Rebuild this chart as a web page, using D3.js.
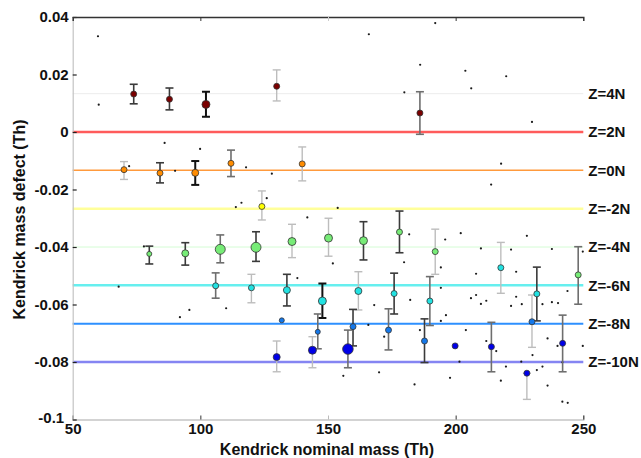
<!DOCTYPE html>
<html><head><meta charset="utf-8">
<script src="https://cdn.jsdelivr.net/npm/d3@7"></script>
<style>
html,body{margin:0;padding:0;background:#fff;}
svg{display:block;font-family:"Liberation Sans",Arial,sans-serif;}
</style></head>
<body><svg id="chart" width="641" height="458"></svg>
<script>
// ---------- data ----------
const massTicks = [50, 100, 150, 200, 250];
const defectTicks = [0.04, 0.02, 0, -0.02, -0.04, -0.06, -0.08, -0.1];
const defectTickLabels = ["0.04", "0.02", "0", "-0.02", "-0.04", "-0.06", "-0.08", "-0.1"];

const seriesLabels = ["Z=4N", "Z=2N", "Z=0N", "Z=-2N", "Z=-4N", "Z=-6N", "Z=-8N", "Z=-10N"];
const seriesDefects = [0.01333, 0, -0.01333, -0.02667, -0.04, -0.05333, -0.06667, -0.08];

// coloured (assigned) points
const pointSeries = [0,0,0,0,0, 2,2,2,2,2, 3, 4,4,4,4,4,4,4,4,4,4, 5,5,5,5,5,5,5,5,5, 6,6,6,6,6,6, 7,7,7,7,7,7,7];
const pointMass = [73.9,87.9,102.2,129.9,186.0, 70.1,84.2,98.0,112.0,139.9, 124.1,
  80.0,94.1,107.8,121.8,135.9,150.2,163.9,178.0,192.0,248.0,
  106.0,120.0,133.9,147.8,161.9,175.9,189.9,217.7,231.8,
  131.9,146.0,159.8,173.7,187.8,229.9,
  129.9,143.9,157.8,199.8,214.0,227.9,241.9];
const pointDefect = [0.0132,0.0114,0.0096,0.0159,0.0066, -0.0131,-0.0143,-0.0142,-0.0109,-0.0111, -0.0259,
  -0.0424,-0.0422,-0.0408,-0.0401,-0.0381,-0.0369,-0.0378,-0.0348,-0.0416,-0.0497,
  -0.0535,-0.0542,-0.0550,-0.0588,-0.0553,-0.0562,-0.0588,-0.0472,-0.0563,
  -0.0655,-0.0695,-0.0677,-0.0689,-0.0727,-0.0660,
  -0.0783,-0.0759,-0.0755,-0.0744,-0.0747,-0.0839,-0.0735];
const errLow = [0.0098,0.0077,0.0053,0.0108,-0.0008, -0.0165,-0.0177,-0.0184,-0.0155,-0.0170, -0.0306,
  -0.0459,-0.0463,-0.0455,-0.0450,-0.0437,-0.0432,-0.0445,-0.0420,-0.0495,-0.0599,
  -0.0578,-0.0594,-0.0605,-0.0647,-0.0619,-0.0633,-0.0673,-0.0561,-0.0657,
  null,-0.0754,-0.0744,-0.0758,-0.0802,-0.0749,
  -0.0834,-0.0820,-0.0820,null,-0.0834,-0.0930,-0.0834];
const errHigh = [0.0166,0.0153,0.0140,0.0216,0.0140, -0.0103,-0.0107,-0.0101,-0.0063,-0.0052, -0.0205,
  -0.0397,-0.0385,-0.0358,-0.0347,-0.0321,-0.0300,-0.0312,-0.0275,-0.0338,-0.0399,
  -0.0490,-0.0495,-0.0495,-0.0527,-0.0486,-0.0491,-0.0503,-0.0384,-0.0470,
  null,-0.0633,-0.0617,-0.0615,-0.0650,-0.0567,
  -0.0727,-0.0712,-0.0689,null,-0.0662,-0.0839,-0.0637];
const pointAbundance = [3,3,4,3,3, 3,3,3.5,3,3, 3,
  2.5,3.5,5,5,4,4,4,3,3,3,
  3,3,3.5,4,3.5,3,3,3,3,
  2.5,2.5,3,3,3,3,
  3.5,4,5.3,3,3,3,3];
// error-bar quality class (0 strong ... 3 weak)
const errClass = [1,1,0,3,2, 3,1,0,2,3, 3,
  1,1,2,1,3,3,1,1,3,2,
  2,3,1,0,3,1,2,3,1,
  0,2,1,2,1,3,
  3,3,2,0,2,3,2];

// unassigned peaks
const noiseMass = [59.9,60.2,72.1,86.0,90.1,99.9,117.9,128.0,113.9,116.1,126.0,141.9,166.0,192.0,186.1,179.9,153.8,
  203.8,219.8,206.1,229.9,217.8,213.9,77.9,68.0,95.7,92.0,110.1,138.0,151.9,168.1,165.8,181.8,179.8,182.2,
  172.0,186.0,195.9,194.2,194.2,196.2,194.2,170.0,156.0,183.9,197.8,201.5,202.0,227.9,209.9,221.7,237.7,
  208.0,223.7,206.0,208.0,209.9,212.0,223.7,221.7,225.9,234.0,237.7,240.1,243.8,249.8,204.0,212.0,215.9,
  230.1,236.0,239.9,249.8,225.7,219.7,231.8,234.0,241.8,217.7,236.0,241.8,243.9];
const noiseDefect = [0.0333,0.0095,-0.0119,-0.0038,-0.0135,-0.0059,-0.0123,-0.0145,-0.0261,-0.0246,-0.0230,-0.0297,0.0340,0.0379,0.0234,0.0138,-0.0264,
  0.0213,0.0194,0.0152,0.0035,-0.0110,-0.0183,-0.0398,-0.0538,-0.0619,-0.0644,-0.0613,-0.0508,-0.0457,-0.0602,-0.0671,-0.0356,-0.0453,-0.0584,
  -0.0712,-0.0689,-0.0374,-0.0471,-0.0542,-0.0637,-0.0657,-0.0836,-0.0848,-0.0878,-0.0855,-0.0799,-0.0352,-0.0361,-0.0405,-0.0409,-0.0407,
  -0.0493,-0.0486,-0.0578,-0.0567,-0.0598,-0.0587,-0.0573,-0.0605,-0.0599,-0.0599,-0.0592,-0.0595,-0.0553,-0.0416,-0.0689,-0.0727,-0.0762,
  -0.0776,-0.0718,-0.0744,-0.0744,-0.0799,-0.0816,-0.0828,-0.0816,-0.0801,-0.0865,-0.0882,-0.0938,-0.0942];

// ---------- drawing ----------
const svg = d3.select("#chart");
const L = 72.7, R = 583.3, T = 17, B = 419.5;
const x = d3.scaleLinear().domain([50, 250]).range([L, R]);
const y = d3.scaleLinear().domain([-0.1, 0.04]).range([B, T]);

const lineColor = d3.scaleOrdinal().domain(seriesLabels)
  .range(["#ececec", "#ff5b5b", "#ff9a3c", "#ffff9a", "#d4fcd4", "#66efef", "#2e90ff", "#8585f2"]);
const lineWidth = d3.scaleOrdinal().domain(seriesLabels).range([1, 2.5, 1.6, 2.5, 1, 2.5, 2, 2.5]);
const pointColor = d3.scaleOrdinal().domain(seriesLabels)
  .range(["#7a0000", "#ff4040", "#ff8c00", "#ffff00", "#77ec77", "#22e2e2", "#1478ea", "#0000e8"]);
const errColor = d3.scaleOrdinal().domain([0, 1, 2, 3]).range(["#111", "#3a3a3a", "#6e6e6e", "#bdbdbd"]);
const errWidth = d3.scaleOrdinal().domain([0, 1, 2, 3]).range([2, 1.6, 1.6, 1.4]);
const rScale = d3.scaleLinear().domain([0, 5]).range([0, 5]);

// reference lines
svg.append("g").selectAll("line").data(seriesLabels).join("line")
  .attr("x1", L).attr("x2", R)
  .attr("y1", (d, i) => y(seriesDefects[i])).attr("y2", (d, i) => y(seriesDefects[i]))
  .attr("stroke", d => lineColor(d)).attr("stroke-width", d => lineWidth(d));

// axes
const fontSize = 15;
const xAxis = svg.append("g").attr("transform", `translate(0,${B})`)
  .call(d3.axisBottom(x).tickValues(massTicks).tickSize(-4).tickPadding(4).tickFormat(d3.format("d")));
xAxis.select(".domain").attr("stroke", "#a8a8a8").attr("stroke-width", 1.2);
xAxis.selectAll(".tick line").attr("stroke", (d) => d === 150 ? "#bbb" : "#333");
xAxis.selectAll("text").attr("font-size", fontSize).attr("font-weight", "bold").attr("fill", "#111");

const yAxis = svg.append("g").attr("transform", `translate(${L},0)`)
  .call(d3.axisLeft(y).tickValues(defectTicks).tickSize(-4).tickPadding(4)
    .tickFormat((d, i) => defectTickLabels[i]));
yAxis.select(".domain").attr("stroke", "#c4c4c4").attr("stroke-width", 1.2);
yAxis.selectAll(".tick line").attr("stroke", "#222").attr("stroke-width", 1.2);
yAxis.selectAll("text").attr("font-size", fontSize).attr("font-weight", "bold").attr("fill", "#111");
// lowest label sits a little up-left so it clears the "50" below it
yAxis.selectAll(".tick text").filter(d => d === -0.1).attr("dx", -4.5).attr("dy", "0.18em");

// top frame with inward ticks
const topAxis = svg.append("g").attr("transform", `translate(0,${T})`)
  .call(d3.axisTop(x).tickValues(massTicks.slice(1, -1)).tickSize(-4).tickFormat(""));
topAxis.select(".domain").attr("stroke", "#333").attr("stroke-width", 1.5);
topAxis.selectAll(".tick line").attr("stroke", d => d === 150 ? "#ccc" : "#333");

// noise peaks
svg.append("g").selectAll("circle").data(noiseMass).join("circle")
  .attr("cx", d => x(d)).attr("cy", (d, i) => y(noiseDefect[i]))
  .attr("r", 1.1).attr("fill", "#1a1a1a");

// error bars
const idx = d3.range(pointMass.length).filter(i => errLow[i] !== null);
const eb = svg.append("g").selectAll("g").data(idx).join("g")
  .attr("stroke", i => errColor(errClass[i])).attr("stroke-width", i => errWidth(errClass[i]));
eb.append("line").attr("x1", i => x(pointMass[i])).attr("x2", i => x(pointMass[i]))
  .attr("y1", i => y(errLow[i])).attr("y2", i => y(errHigh[i]));
eb.append("line").attr("x1", i => x(pointMass[i]) - 4).attr("x2", i => x(pointMass[i]) + 4)
  .attr("y1", i => y(errLow[i])).attr("y2", i => y(errLow[i]));
eb.append("line").attr("x1", i => x(pointMass[i]) - 4).attr("x2", i => x(pointMass[i]) + 4)
  .attr("y1", i => y(errHigh[i])).attr("y2", i => y(errHigh[i]));

// assigned points
svg.append("g").selectAll("circle").data(pointMass).join("circle")
  .attr("cx", d => x(d)).attr("cy", (d, i) => y(pointDefect[i]))
  .attr("r", (d, i) => rScale(pointAbundance[i]))
  .attr("fill", (d, i) => pointColor(seriesLabels[pointSeries[i]]))
  .attr("stroke", "#333").attr("stroke-width", 0.8);

// series labels at right
svg.append("g").selectAll("text").data(seriesLabels).join("text")
  .attr("x", R + 5).attr("y", (d, i) => y(seriesDefects[i])).attr("dy", "0.36em")
  .attr("font-size", fontSize).attr("font-weight", "bold").attr("fill", "#111").text(d => d);

// axis titles
svg.append("text").attr("x", (L + R) / 2 - 1).attr("y", 455).attr("text-anchor", "middle")
  .attr("font-size", 16).attr("font-weight", "bold").attr("fill", "#111").text("Kendrick nominal mass (Th)");
svg.append("text").attr("transform", "translate(25,219.5) rotate(-90)").attr("text-anchor", "middle")
  .attr("font-size", 16).attr("font-weight", "bold").attr("fill", "#111").text("Kendrick mass defect (Th)");
</script></body></html>
